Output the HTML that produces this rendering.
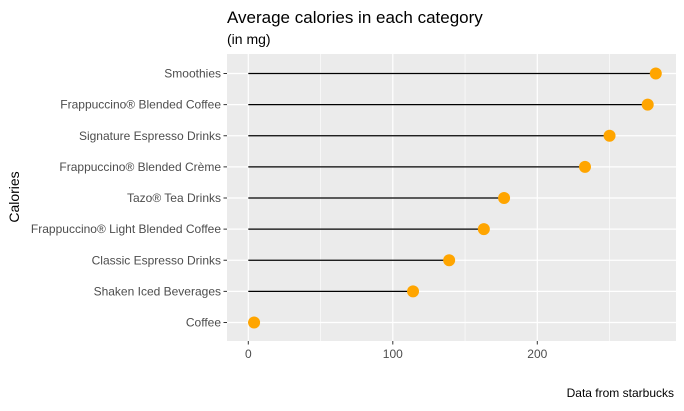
<!DOCTYPE html>
<html><head><meta charset="utf-8"><style>
body{margin:0;background:#fff;font-family:"Liberation Sans",sans-serif}
svg text{font-family:"Liberation Sans",sans-serif}
</style></head><body>
<svg width="684" height="406">
<text x="227" y="23" font-size="17" fill="#000">Average calories in each category</text>
<text x="227" y="44" font-size="14" fill="#000">(in mg)</text>
<rect x="227" y="54" width="449" height="287" fill="#ebebeb"/>
<g id="grid"></g><g id="marks"></g><g id="axes"></g>
<text transform="translate(19,197) rotate(-90)" text-anchor="middle" font-size="14" fill="#000">Calories</text>
<text x="674" y="397" text-anchor="end" font-size="12" fill="#000">Data from starbucks</text>
</svg>
<script>
const categories=["Smoothies","Frappuccino® Blended Coffee","Signature Espresso Drinks","Frappuccino® Blended Crème","Tazo® Tea Drinks","Frappuccino® Light Blended Coffee","Classic Espresso Drinks","Shaken Iced Beverages","Coffee"];
const calories=[282,276.4,250,233,177,163,139,114,4];
const xTicks=[0,100,200];
const xMinor=[50,150,250];
const NS="http://www.w3.org/2000/svg";
const x=v=>248.3+v*1.445;
const y=i=>73.5+i*31.125;
function mk(t,a,p){const e=document.createElementNS(NS,t);for(const k in a)e.setAttribute(k,a[k]);p.appendChild(e);return e;}
const grid=document.getElementById('grid'),marks=document.getElementById('marks'),axes=document.getElementById('axes');
xMinor.forEach(v=>{const l=mk('line',{x1:x(v),x2:x(v),y1:54,y2:341,stroke:'#fff','stroke-width':0.6},grid);

});
xTicks.forEach(v=>{const l=mk('line',{x1:x(v),x2:x(v),y1:54,y2:341,stroke:'#fff','stroke-width':1.2},grid);


const tk=mk('line',{x1:x(v),x2:x(v),y1:341,y2:344.5,stroke:'#333','stroke-width':1},axes);


const t=mk('text',{x:x(v),y:358,'text-anchor':'middle','font-size':12,fill:'#4d4d4d'},axes);t.textContent=v;

});
categories.forEach((c,i)=>{const g=mk('line',{x1:227,x2:676,y1:y(i),y2:y(i),stroke:'#fff','stroke-width':1.2},grid);


const s=mk('line',{x1:x(0),x2:x(calories[i]),y1:y(i),y2:y(i),stroke:'#000','stroke-width':1.2},marks);


const d=mk('circle',{cx:x(calories[i]),cy:y(i),r:6,fill:'#ffa500'},marks);


const tk=mk('line',{x1:223.5,x2:227,y1:y(i),y2:y(i),stroke:'#333','stroke-width':1},axes);


const t=mk('text',{x:221,y:y(i)+4,'text-anchor':'end','font-size':12,fill:'#4d4d4d'},axes);t.textContent=c;

});
</script>
</body></html>
